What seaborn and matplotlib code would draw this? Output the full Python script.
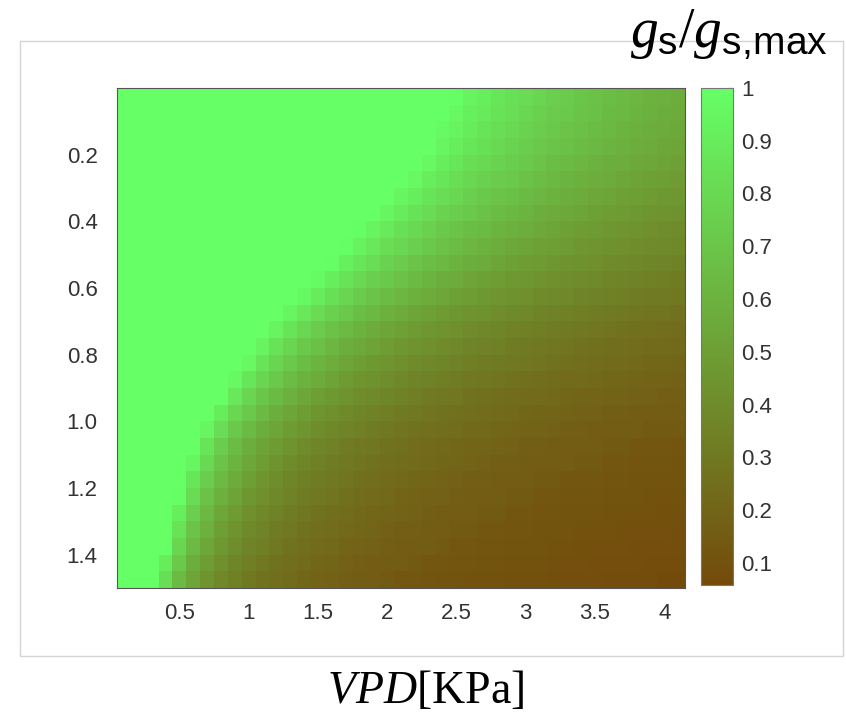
import matplotlib
matplotlib.use("Agg")
import pandas as pd
import matplotlib.pyplot as plt
import seaborn as sns
from matplotlib.colors import LinearSegmentedColormap
from matplotlib.patches import Rectangle

# VPD columns (kPa), one per 0.1 step
vpd = [0.1, 0.2, 0.3, 0.4, 0.5, 0.6, 0.7, 0.8, 0.9, 1.0,
       1.1, 1.2, 1.3, 1.4, 1.5, 1.6, 1.7, 1.8, 1.9, 2.0,
       2.1, 2.2, 2.3, 2.4, 2.5, 2.6, 2.7, 2.8, 2.9, 3.0,
       3.1, 3.2, 3.3, 3.4, 3.5, 3.6, 3.7, 3.8, 3.9, 4.0, 4.1]

# vertical axis (row centres)
y_vals = [0.025, 0.075, 0.125, 0.175, 0.225, 0.275, 0.325, 0.375, 0.425, 0.475,
          0.525, 0.575, 0.625, 0.675, 0.725, 0.775, 0.825, 0.875, 0.925, 0.975,
          1.025, 1.075, 1.125, 1.175, 1.225, 1.275, 1.325, 1.375, 1.425, 1.475]

# gs / gs,max, one list per row (top to bottom)
gs_rows = [
    [1.0] * 24 + [0.99, 0.94, 0.91, 0.87, 0.84, 0.81, 0.78, 0.75, 0.73, 0.70, 0.68, 0.66, 0.64, 0.62, 0.60, 0.59, 0.57],
    [1.0] * 24 + [0.96, 0.92, 0.89, 0.85, 0.82, 0.79, 0.76, 0.73, 0.71, 0.69, 0.67, 0.64, 0.63, 0.61, 0.59, 0.58, 0.56],
    [1.0] * 23 + [0.98, 0.94, 0.90, 0.86, 0.83, 0.80, 0.77, 0.74, 0.72, 0.69, 0.67, 0.65, 0.63, 0.61, 0.59, 0.58, 0.56, 0.55],
    [1.0] * 23 + [0.95, 0.91, 0.87, 0.84, 0.80, 0.77, 0.74, 0.72, 0.69, 0.67, 0.65, 0.63, 0.61, 0.59, 0.57, 0.56, 0.54, 0.53],
    [1.0] * 22 + [0.96, 0.91, 0.87, 0.83, 0.80, 0.77, 0.74, 0.72, 0.69, 0.66, 0.64, 0.62, 0.60, 0.58, 0.57, 0.55, 0.54, 0.52, 0.51],
    [1.0] * 21 + [0.96, 0.91, 0.87, 0.83, 0.79, 0.76, 0.73, 0.71, 0.68, 0.66, 0.63, 0.61, 0.59, 0.57, 0.56, 0.54, 0.52, 0.51, 0.50, 0.48],
    [1.0] * 20 + [0.95, 0.91, 0.86, 0.82, 0.79, 0.75, 0.72, 0.69, 0.67, 0.64, 0.62, 0.60, 0.58, 0.56, 0.54, 0.53, 0.51, 0.50, 0.48, 0.47, 0.46],
    [1.0] * 19 + [0.95, 0.90, 0.85, 0.81, 0.77, 0.74, 0.71, 0.68, 0.65, 0.63, 0.61, 0.58, 0.56, 0.55, 0.53, 0.51, 0.49, 0.48, 0.47, 0.45, 0.44, 0.43],
    [1.0] * 17 + [0.99, 0.94, 0.89, 0.84, 0.80, 0.76, 0.72, 0.69, 0.66, 0.64, 0.61, 0.59, 0.57, 0.55, 0.53, 0.51, 0.49, 0.48, 0.46, 0.45, 0.44, 0.42, 0.41, 0.40],
    [1.0] * 16 + [0.99, 0.93, 0.88, 0.83, 0.79, 0.75, 0.71, 0.68, 0.65, 0.62, 0.60, 0.57, 0.55, 0.53, 0.51, 0.50, 0.48, 0.46, 0.45, 0.43, 0.42, 0.41, 0.40, 0.39, 0.38],
    [1.0] * 15 + [0.99, 0.92, 0.87, 0.82, 0.77, 0.73, 0.69, 0.66, 0.63, 0.60, 0.58, 0.56, 0.53, 0.51, 0.49, 0.48, 0.46, 0.44, 0.43, 0.42, 0.40, 0.39, 0.38, 0.37, 0.36, 0.35],
    [1.0] * 14 + [0.98, 0.91, 0.85, 0.80, 0.75, 0.71, 0.68, 0.64, 0.61, 0.58, 0.56, 0.53, 0.51, 0.49, 0.47, 0.46, 0.44, 0.42, 0.41, 0.40, 0.39, 0.37, 0.36, 0.35, 0.34, 0.33, 0.32],
    [1.0] * 13 + [0.97, 0.90, 0.84, 0.78, 0.73, 0.69, 0.65, 0.62, 0.59, 0.56, 0.54, 0.51, 0.49, 0.47, 0.45, 0.43, 0.42, 0.40, 0.39, 0.38, 0.36, 0.35, 0.34, 0.33, 0.32, 0.31, 0.31, 0.30],
    [1.0] * 12 + [0.95, 0.88, 0.81, 0.76, 0.71, 0.66, 0.63, 0.59, 0.56, 0.53, 0.51, 0.48, 0.46, 0.44, 0.43, 0.41, 0.39, 0.38, 0.36, 0.35, 0.34, 0.33, 0.32, 0.31, 0.30, 0.29, 0.28, 0.28, 0.27],
    [1.0] * 11 + [0.94, 0.86, 0.79, 0.73, 0.68, 0.64, 0.60, 0.56, 0.53, 0.51, 0.48, 0.46, 0.44, 0.42, 0.40, 0.38, 0.37, 0.35, 0.34, 0.33, 0.32, 0.31, 0.30, 0.29, 0.28, 0.27, 0.26, 0.26, 0.25, 0.24],
    [1.0] * 10 + [0.94, 0.85, 0.78, 0.72, 0.67, 0.62, 0.58, 0.55, 0.52, 0.49, 0.46, 0.44, 0.42, 0.40, 0.38, 0.36, 0.35, 0.34, 0.32, 0.31, 0.30, 0.29, 0.28, 0.27, 0.26, 0.25, 0.25, 0.24, 0.23, 0.23, 0.22],
    [1.0] * 9 + [0.96, 0.86, 0.78, 0.72, 0.66, 0.61, 0.57, 0.53, 0.50, 0.47, 0.45, 0.42, 0.40, 0.38, 0.37, 0.35, 0.33, 0.32, 0.31, 0.30, 0.29, 0.28, 0.27, 0.26, 0.25, 0.24, 0.23, 0.23, 0.22, 0.21, 0.21, 0.20],
    [1.0] * 8 + [0.97, 0.87, 0.78, 0.71, 0.65, 0.60, 0.56, 0.52, 0.48, 0.45, 0.43, 0.41, 0.38, 0.36, 0.35, 0.33, 0.32, 0.30, 0.29, 0.28, 0.27, 0.26, 0.25, 0.24, 0.23, 0.23, 0.22, 0.21, 0.21, 0.20, 0.19, 0.19, 0.18],
    [1.0] * 8 + [0.88, 0.78, 0.70, 0.64, 0.59, 0.54, 0.50, 0.47, 0.44, 0.41, 0.39, 0.37, 0.35, 0.33, 0.31, 0.30, 0.29, 0.27, 0.26, 0.25, 0.24, 0.23, 0.23, 0.22, 0.21, 0.20, 0.20, 0.19, 0.19, 0.18, 0.18, 0.17, 0.17],
    [1.0] * 7 + [0.90, 0.79, 0.71, 0.64, 0.58, 0.53, 0.49, 0.45, 0.42, 0.39, 0.37, 0.35, 0.33, 0.31, 0.30, 0.28, 0.27, 0.26, 0.25, 0.24, 0.23, 0.22, 0.21, 0.20, 0.20, 0.19, 0.18, 0.18, 0.17, 0.17, 0.16, 0.16, 0.15, 0.15],
    [1.0] * 6 + [0.95, 0.82, 0.72, 0.64, 0.58, 0.53, 0.48, 0.45, 0.41, 0.38, 0.36, 0.34, 0.32, 0.30, 0.28, 0.27, 0.26, 0.25, 0.24, 0.22, 0.22, 0.21, 0.20, 0.19, 0.19, 0.18, 0.17, 0.17, 0.16, 0.16, 0.15, 0.15, 0.14, 0.14, 0.14],
    [1.0] * 6 + [0.86, 0.74, 0.65, 0.58, 0.52, 0.48, 0.44, 0.40, 0.37, 0.35, 0.32, 0.30, 0.29, 0.27, 0.26, 0.24, 0.23, 0.22, 0.21, 0.20, 0.20, 0.19, 0.18, 0.17, 0.17, 0.16, 0.16, 0.15, 0.15, 0.14, 0.14, 0.13, 0.13, 0.13, 0.12],
    [1.0] * 5 + [0.95, 0.80, 0.69, 0.61, 0.54, 0.49, 0.44, 0.40, 0.37, 0.34, 0.32, 0.30, 0.28, 0.27, 0.25, 0.24, 0.23, 0.22, 0.21, 0.20, 0.19, 0.18, 0.17, 0.17, 0.16, 0.16, 0.15, 0.15, 0.14, 0.14, 0.13, 0.13, 0.12, 0.12, 0.12, 0.11],
    [1.0] * 5 + [0.87, 0.74, 0.64, 0.56, 0.50, 0.45, 0.41, 0.37, 0.34, 0.32, 0.30, 0.28, 0.26, 0.25, 0.23, 0.22, 0.21, 0.20, 0.19, 0.18, 0.17, 0.17, 0.16, 0.15, 0.15, 0.14, 0.14, 0.13, 0.13, 0.13, 0.12, 0.12, 0.11, 0.11, 0.11, 0.11],
    [1.0] * 4 + [0.99, 0.81, 0.68, 0.59, 0.52, 0.46, 0.42, 0.38, 0.35, 0.32, 0.30, 0.28, 0.26, 0.24, 0.23, 0.22, 0.20, 0.19, 0.18, 0.18, 0.17, 0.16, 0.16, 0.15, 0.14, 0.14, 0.13, 0.13, 0.12, 0.12, 0.12, 0.11, 0.11, 0.11, 0.10, 0.10, 0.10],
    [1.0] * 4 + [0.91, 0.75, 0.63, 0.54, 0.48, 0.42, 0.38, 0.35, 0.32, 0.29, 0.27, 0.25, 0.24, 0.22, 0.21, 0.20, 0.19, 0.18, 0.17, 0.16, 0.16, 0.15, 0.14, 0.14, 0.13, 0.13, 0.12, 0.12, 0.11, 0.11, 0.11, 0.10, 0.10, 0.10, 0.10, 0.09, 0.09],
    [1.0] * 4 + [0.85, 0.69, 0.59, 0.50, 0.44, 0.39, 0.36, 0.32, 0.30, 0.27, 0.25, 0.24, 0.22, 0.21, 0.20, 0.18, 0.17, 0.17, 0.16, 0.15, 0.14, 0.14, 0.13, 0.13, 0.12, 0.12, 0.11, 0.11, 0.11, 0.10, 0.10, 0.10, 0.09, 0.09, 0.09, 0.09, 0.08],
    [1.0] * 4 + [0.78, 0.64, 0.54, 0.47, 0.41, 0.36, 0.33, 0.30, 0.27, 0.25, 0.23, 0.22, 0.20, 0.19, 0.18, 0.17, 0.16, 0.15, 0.15, 0.14, 0.13, 0.13, 0.12, 0.12, 0.11, 0.11, 0.11, 0.10, 0.10, 0.09, 0.09, 0.09, 0.09, 0.08, 0.08, 0.08, 0.08],
    [1.0] * 3 + [0.90, 0.71, 0.58, 0.49, 0.42, 0.37, 0.33, 0.30, 0.27, 0.25, 0.23, 0.21, 0.20, 0.18, 0.17, 0.16, 0.15, 0.15, 0.14, 0.13, 0.13, 0.12, 0.12, 0.11, 0.11, 0.10, 0.10, 0.10, 0.09, 0.09, 0.09, 0.08, 0.08, 0.08, 0.08, 0.07, 0.07, 0.07],
    [1.0] * 3 + [0.82, 0.64, 0.53, 0.44, 0.38, 0.34, 0.30, 0.27, 0.25, 0.23, 0.21, 0.19, 0.18, 0.17, 0.16, 0.15, 0.14, 0.13, 0.13, 0.12, 0.11, 0.11, 0.10, 0.10, 0.10, 0.09, 0.09, 0.09, 0.08, 0.08, 0.08, 0.08, 0.07, 0.07, 0.07, 0.07, 0.06, 0.06],
]

x_ticks = [0.5, 1, 1.5, 2, 2.5, 3, 3.5, 4]
x_tick_labels = ["0.5", "1", "1.5", "2", "2.5", "3", "3.5", "4"]
y_ticks = [0.2, 0.4, 0.6, 0.8, 1.0, 1.2, 1.4]
y_tick_labels = ["0.2", "0.4", "0.6", "0.8", "1.0", "1.2", "1.4"]
cbar_ticks = [0.1, 0.2, 0.3, 0.4, 0.5, 0.6, 0.7, 0.8, 0.9, 1.0]
cbar_tick_labels = ["0.1", "0.2", "0.3", "0.4", "0.5", "0.6", "0.7", "0.8", "0.9", "1"]

df = pd.DataFrame(gs_rows, index=y_vals, columns=vpd)

sns.set_theme(style="white")
plt.rcParams["font.family"] = ["Liberation Sans", "DejaVu Sans"]
plt.rcParams["mathtext.fontset"] = "custom"
plt.rcParams["mathtext.rm"] = "Liberation Serif"
plt.rcParams["mathtext.it"] = "Liberation Serif:italic"
plt.rcParams["mathtext.sf"] = "Liberation Sans"

cmap = LinearSegmentedColormap.from_list("soil_leaf", ["#744a0a", "#66ff66"])

fig = plt.figure(figsize=(8.46, 7.24), dpi=100)

# light frame around the whole panel
fig.patches.append(Rectangle((0.0236, 0.0939), 0.973, 0.8495, transform=fig.transFigure,
                             fill=False, edgecolor="#d4d4d4", linewidth=1.0))

ax = fig.add_axes([0.1383, 0.1878, 0.6714, 0.6906])
cax = fig.add_axes([0.8286, 0.192, 0.0378, 0.6865])

sns.heatmap(df, ax=ax, cbar_ax=cax, cmap=cmap, vmin=0.058, vmax=1.0,
            xticklabels=False, yticklabels=False, linewidths=0)

# map tick values to heatmap cell coordinates
dx = vpd[1] - vpd[0]
dy = y_vals[1] - y_vals[0]
ax.set_xticks([(t - vpd[0]) / dx + 0.5 for t in x_ticks])
ax.set_xticklabels(x_tick_labels)
ax.set_yticks([(t - y_vals[0]) / dy + 0.5 for t in y_ticks])
ax.set_yticklabels(y_tick_labels, rotation=0)
ax.set_xlabel("")
ax.set_ylabel("")

for s in ax.spines.values():
    s.set_visible(True)
    s.set_color("#555555")
    s.set_linewidth(0.8)

ax.tick_params(axis="both", direction="in", top=True, right=True, length=5, width=0.8,
               color="#333333", labelcolor="#333333", labelsize=16)
ax.tick_params(axis="x", pad=11)
ax.tick_params(axis="y", pad=14)

cbar = ax.collections[0].colorbar
cbar.set_ticks(cbar_ticks)
cbar.set_ticklabels(cbar_tick_labels)
cbar.outline.set_edgecolor("#777777")
cbar.outline.set_linewidth(0.8)
cax.tick_params(direction="in", length=4, width=0.8, color="#333333",
                labelcolor="#333333", labelsize=16, pad=6)

fig.text(0.978, 0.952, r"$g_{\mathsf{s}}/g_{\mathsf{s,\!max}}$", ha="right", va="center",
         fontsize=40, color="black")
fig.text(0.503, 0.045, r"$VPD[\mathrm{KPa}]$", ha="center", va="center",
         fontsize=33, color="black")

fig.savefig("out.png", dpi=100)
